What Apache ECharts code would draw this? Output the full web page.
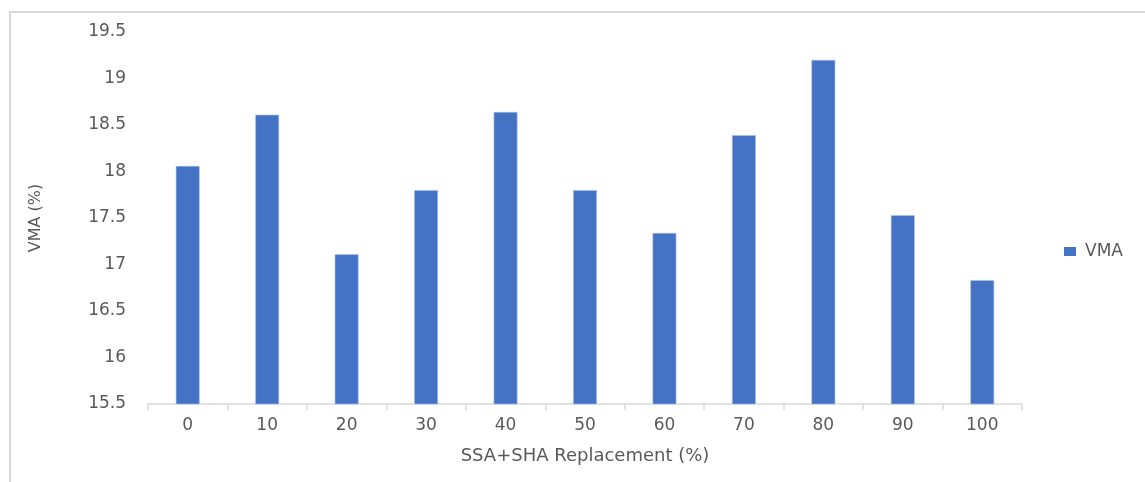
<!DOCTYPE html>
<html>
<head>
<meta charset="utf-8">
<script src="https://cdn.jsdelivr.net/npm/echarts@6/dist/echarts.min.js"></script>
<style>
  html, body { margin: 0; padding: 0; background: #fff; }
  #chart { width: 1145px; height: 482px; }
</style>
</head>
<body>
<div id="chart"></div>
<script>
const categories = ['0', '10', '20', '30', '40', '50', '60', '70', '80', '90', '100'];
const vmaValues = [18.06, 18.61, 17.11, 17.80, 18.64, 17.80, 17.34, 18.39, 19.20, 17.53, 16.83];

const labelColor = '#595959';
const fontFamily = '"DejaVu Sans", Verdana, sans-serif';

const chart = echarts.init(document.getElementById('chart'));

chart.setOption({
  animation: false,
  textStyle: { fontFamily: fontFamily },
  grid: {
    left: 148,
    right: 123,
    top: 32,
    bottom: 78,
  },
  legend: {
    left: 1064,
    top: 243,
    padding: 0,
    itemWidth: 12,
    itemHeight: 9,
    itemGap: 6,
    icon: 'rect',
    itemStyle: { borderWidth: 0 },
    textStyle: { color: labelColor, fontSize: 17, fontFamily: fontFamily, padding: [0, 0, 0, 4] },
    data: ['VMA'],
  },
  graphic: [
    {
      type: 'polyline',
      silent: true,
      shape: { points: [[10, 482], [10, 12], [1146, 12]] },
      style: { stroke: '#d9d9d9', lineWidth: 2, fill: null },
    },
  ],
  xAxis: {
    type: 'category',
    data: categories,
    name: 'SSA+SHA Replacement (%)',
    nameLocation: 'middle',
    nameGap: 43,
    nameTextStyle: { color: labelColor, fontSize: 18, fontFamily: fontFamily },
    axisLine: { lineStyle: { color: '#d9d9d9', width: 1.5 } },
    axisTick: { show: true, alignWithLabel: false, length: 6, lineStyle: { color: '#d9d9d9', width: 1.5 } },
    axisLabel: { color: labelColor, fontSize: 17, margin: 13, fontFamily: fontFamily },
    splitLine: { show: false },
  },
  yAxis: {
    type: 'value',
    min: 15.5,
    max: 19.5,
    interval: 0.5,
    name: 'VMA (%)',
    nameLocation: 'middle',
    nameGap: 104,
    nameTextStyle: { color: labelColor, fontSize: 16, fontFamily: fontFamily },
    axisLine: { show: false },
    axisTick: { show: false },
    axisLabel: { color: labelColor, fontSize: 17, margin: 22, fontFamily: fontFamily },
    splitLine: { show: false },
  },
  series: [
    {
      name: 'VMA',
      type: 'bar',
      data: vmaValues,
      barWidth: '30%',
      itemStyle: { color: '#4472c4', borderColor: '#a9c0e8', borderWidth: 0.6 },
    },
  ],
});
</script>
</body>
</html>
